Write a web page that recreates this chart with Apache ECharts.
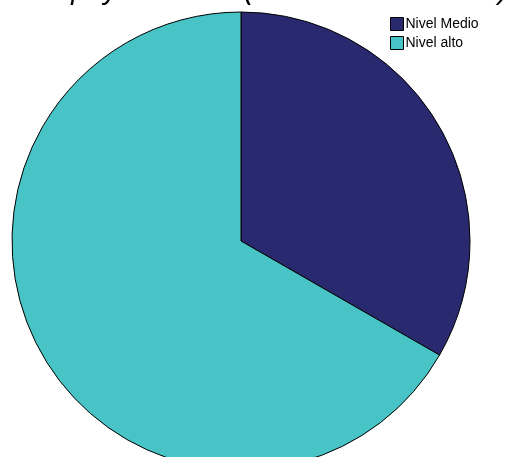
<!DOCTYPE html>
<html>
<head>
<meta charset="utf-8">
<script src="https://cdn.jsdelivr.net/npm/echarts@6/dist/echarts.min.js"></script>
<style>
  html, body { margin: 0; padding: 0; background: #fff; }
  #chart { width: 520px; height: 457px; }
</style>
</head>
<body>
<div id="chart"></div>
<script>
// Education level share
const categories = ['Nivel Medio', 'Nivel alto'];
const values = [33.3, 66.7];
const colors = ['#29296f', '#48c3c6'];
const titleText = 'Apoyo familiar (Nivel de educación)';

const chart = echarts.init(document.getElementById('chart'), null, { renderer: 'canvas' });

chart.setOption({
  animation: false,
  backgroundColor: '#ffffff',
  title: {
    text: titleText,
    left: 47,
    top: -29,
    textStyle: {
      fontFamily: 'Liberation Sans, Arial, sans-serif',
      fontStyle: 'italic',
      fontWeight: 'normal',
      fontSize: 29,
      color: '#000'
    }
  },
  legend: {
    orient: 'vertical',
    left: 385,
    top: 12,
    itemWidth: 13,
    itemHeight: 13,
    itemGap: 5,
    icon: 'rect',
    data: categories,
    textStyle: {
      fontFamily: 'Liberation Sans, Arial, sans-serif',
      fontSize: 14,
      color: '#000',
      padding: [0, 0, 0, -3]
    },
    itemStyle: { borderColor: '#000', borderWidth: 1 }
  },
  series: [{
    type: 'pie',
    center: [241, 241],
    radius: 229,
    startAngle: 90,
    clockwise: true,
    label: { show: false },
    labelLine: { show: false },
    emphasis: { disabled: true },
    itemStyle: { borderColor: '#000', borderWidth: 1 },
    data: categories.map((name, i) => ({
      name,
      value: values[i],
      itemStyle: { color: colors[i] }
    }))
  }]
});
</script>
</body>
</html>
